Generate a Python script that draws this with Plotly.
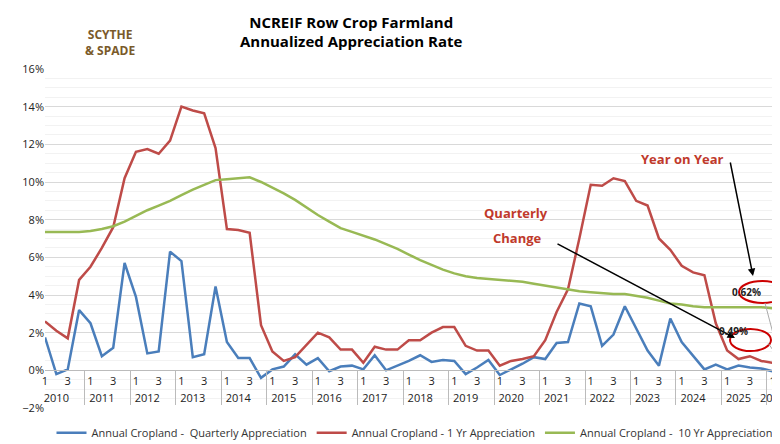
import plotly.graph_objects as go

years = [str(y) for y in range(2010, 2027)]
quarters = ["1", "2", "3", "4"]

quarterly = [1.75, -0.2, 0.05, 3.2, 2.5, 0.75, 1.2, 5.7, 3.9, 0.9, 1.0, 6.3,
             5.8, 0.7, 0.85, 4.45, 1.5, 0.65, 0.65, -0.4, 0.05, 0.2, 0.85, 0.3,
             0.65, -0.05, 0.2, 0.25, 0.05, 0.8, 0.0, 0.25, 0.5, 0.8, 0.45, 0.55,
             0.5, -0.2, 0.15, 0.55, -0.25, 0.05, 0.35, 0.7, 0.6, 1.45, 1.5, 3.55,
             3.4, 1.3, 1.9, 3.4, 2.2, 1.05, 0.25, 2.75, 1.5, 0.8, 0.05, 0.3,
             0.05, 0.25, 0.15, 0.1, -0.05, 0.49]
one_yr = [2.6, 2.1, 1.7, 4.8, 5.5, 6.5, 7.6, 10.2, 11.6, 11.75, 11.5, 12.2,
          14.0, 13.8, 13.65, 11.8, 7.5, 7.45, 7.3, 2.4, 1.0, 0.5, 0.7, 1.35,
          2.0, 1.75, 1.1, 1.1, 0.4, 1.25, 1.1, 1.1, 1.6, 1.6, 2.0, 2.3,
          2.3, 1.3, 1.05, 1.05, 0.25, 0.5, 0.6, 0.75, 1.6, 3.1, 4.3, 7.0,
          9.85, 9.8, 10.2, 10.05, 9.0, 8.75, 7.0, 6.4, 5.55, 5.2, 5.05, 2.5,
          1.05, 0.6, 0.75, 0.5, 0.4, 0.62]
ten_yr = [7.35, 7.35, 7.33, 7.35, 7.4, 7.5, 7.65, 7.9, 8.2, 8.5, 8.75, 9.0,
          9.3, 9.6, 9.85, 10.1, 10.15, 10.2, 10.25, 10.0, 9.7, 9.4, 9.05, 8.65,
          8.25, 7.9, 7.55, 7.35, 7.15, 6.95, 6.7, 6.45, 6.15, 5.85, 5.6, 5.35,
          5.15, 5.0, 4.9, 4.85, 4.8, 4.75, 4.7, 4.6, 4.5, 4.4, 4.3, 4.2,
          4.15, 4.1, 4.05, 4.05, 3.95, 3.85, 3.7, 3.55, 3.5, 3.4, 3.35, 3.35,
          3.35, 3.35, 3.35, 3.35, 3.3, 3.25]

x_year, x_q = [], []
for y in years:
    for q in quarters:
        if len(x_year) < len(quarterly):
            x_year.append(y)
            x_q.append(q)
x = [x_year, x_q]

FONT = "Open Sans"
RED = "#c0392b"

fig = go.Figure()
fig.add_trace(go.Scatter(x=x, y=quarterly, mode="lines", name="Annual Cropland -  Quarterly Appreciation",
                         line=dict(color="#4a7ebb", width=2.5)))
fig.add_trace(go.Scatter(x=x, y=one_yr, mode="lines", name="Annual Cropland - 1 Yr Appreciation",
                         line=dict(color="#be4b48", width=2.5)))
fig.add_trace(go.Scatter(x=x, y=ten_yr, mode="lines", name="Annual Cropland -  10 Yr Appreciation",
                         line=dict(color="#98b954", width=2.5)))

fig.update_layout(
    width=780, height=444,
    margin=dict(l=37, r=4, t=61, b=44),
    plot_bgcolor="white", paper_bgcolor="white",
    font=dict(family=FONT, size=11, color="#222"),
    title=dict(text="<b>NCREIF Row Crop Farmland<br>Annualized Appreciation Rate</b>",
               x=0.44, xanchor="center", y=0.955, font=dict(size=15, color="black")),
    legend=dict(orientation="h", x=0.5, xanchor="center", y=-0.03, yanchor="top",
                font=dict(size=11, color="#333"), traceorder="normal"),
    xaxis=dict(type="multicategory", anchor="free", position=2 / 18,
               showline=True, linecolor="#bbb", showdividers=True, dividercolor="#bbb",
               tickfont=dict(size=11, color="#222"), showgrid=False),
    yaxis=dict(range=[-2, 16], dtick=2, ticksuffix="%", showgrid=True, gridcolor="#d9d9d9",
               zeroline=False, tickfont=dict(size=11, color="#222"),
               minor=dict(dtick=0.5, showgrid=True, gridcolor="#f2f2f2")),
)

XR, YR = "x domain", "y domain"

def px_x(p):
    return (p - 37) / 739

def px_y(p):
    return (400 - p) / 339

def label(px, py, text, size=13, color=RED):
    fig.add_annotation(xref=XR, yref=YR, x=px_x(px), y=px_y(py), text=text,
                       showarrow=False, font=dict(size=size, color=color))

def arrow(x0, y0, x1, y1):
    fig.add_annotation(xref=XR, yref=YR, axref=XR, ayref=YR,
                       x=px_x(x1), y=px_y(y1), ax=px_x(x0), ay=px_y(y0),
                       showarrow=True, arrowhead=2, arrowwidth=1.5, arrowcolor="black", text="")

label(718, 140, "<b>Year on Year</b>")
arrow(722, 153, 745, 268)
label(508, 205, "<b>Quarterly</b>")
label(510, 230, "<b>Change</b>")
arrow(548, 235, 727, 330)
label(755, 284, "<b>0.62%</b>", size=10, color="#222")
label(742, 332, "<b>0.49%</b>", size=10, color="#222")

fig.add_shape(type="circle", xref=XR, yref=YR, x0=px_x(731), x1=px_x(778),
              y0=px_y(295), y1=px_y(273), line=dict(color="#cc0000", width=2))
fig.add_shape(type="circle", xref=XR, yref=YR, x0=px_x(722), x1=px_x(763),
              y0=px_y(343), y1=px_y(321), line=dict(color="#cc0000", width=2))
fig.add_shape(type="line", xref=XR, yref=YR, x0=px_x(757), x1=px_x(772),
              y0=px_y(295), y1=px_y(352), line=dict(color="#aaa", width=1))
fig.add_shape(type="line", xref=XR, yref=YR, x0=px_x(760), x1=px_x(772),
              y0=px_y(335), y1=px_y(352), line=dict(color="#aaa", width=1))

fig.add_annotation(xref="paper", yref="paper", x=px_x(75), y=px_y(16), text="<b>SCYTHE<br>&amp; SPADE</b>",
                   showarrow=False, font=dict(size=12, color="#7a5a2a"), align="center")

fig.write_html("out.html")
